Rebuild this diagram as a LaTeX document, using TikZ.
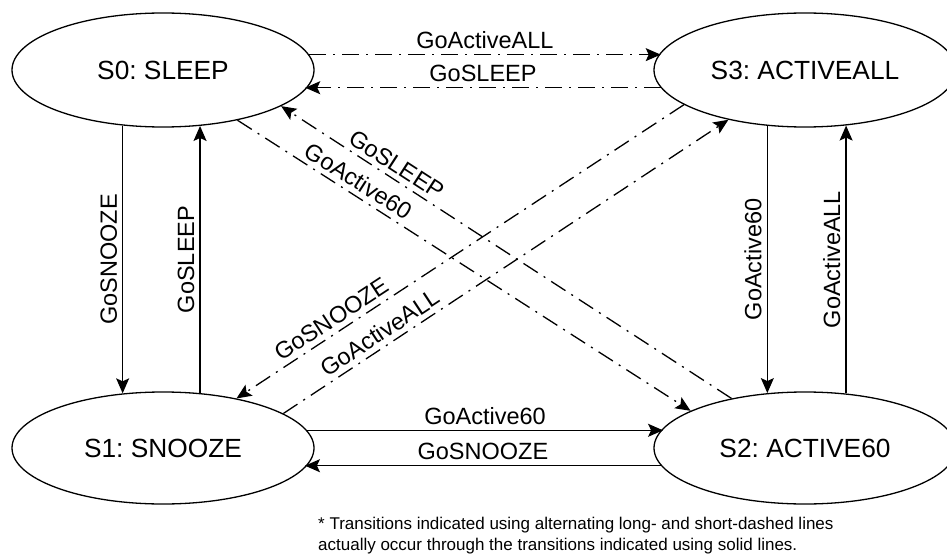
\documentclass[tikz,border=0pt]{standalone}
\usepackage{fontspec}
\setmainfont{Liberation Sans}
\usetikzlibrary{arrows.meta,shapes.geometric,calc}
\begin{document}
\frenchspacing
\begin{tikzpicture}[x=1pt,y=-1pt,
  stnode/.style={draw, ellipse, line width=1.3pt, minimum width=302pt, minimum height=114pt, inner sep=0pt, font=\fontsize{26.3}{30}\selectfont},
  tr/.style={line width=1.3pt, -{Stealth[length=15pt,width=13pt,inset=3pt]}},
  via/.style={tr, dash pattern=on 17pt off 7pt on 2pt off 7pt},
  lbl/.style={font=\fontsize{23.5}{28}\selectfont, inner sep=5pt},
]
\useasboundingbox (0,0) rectangle (947,559);
\clip (0,0) rectangle (947,559);
\node[stnode] (S0) at (163,70) {S0:\ SLEEP};
\node[stnode] (S3) at (805,70) {S3:\ ACTIVEALL};
\node[stnode, minimum height=112pt] (S1) at (163,448) {S1:\ SNOOZE};
\node[stnode, minimum height=112pt] (S2) at (805,448) {S2:\ ACTIVE60};
% vertical solid transitions
\draw[tr] (S0.234) -- (S0.234 |- S1.126) node[lbl, midway, rotate=90, anchor=south] {GoSNOOZE};
\draw[tr] (S1.56.6) -- (S1.56.6 |- S0.303.2) node[lbl, midway, rotate=90, anchor=south] {GoSLEEP};
\draw[tr] (S3.236) -- (S3.236 |- S2.124.4) node[lbl, midway, rotate=90, anchor=south] {GoActive60};
\draw[tr] (S2.53.5) -- (S2.53.5 |- S3.306) node[lbl, midway, rotate=90, anchor=south] {GoActiveALL};
% horizontal transitions
\draw[via] (S0.6.7) -- (S0.6.7 -| S3.173.3) node[lbl, midway, above] {GoActiveALL};
\draw[via] (S3.187.1) -- (S3.187.1 -| S0.352.9) node[lbl, midway, above] {GoSLEEP};
\draw[tr] (S1.7.1) -- (S1.7.1 -| S2.172.9) node[lbl, midway, above] {GoActive60};
\draw[tr] (S2.187.5) -- (S2.187.5 -| S1.352.5) node[lbl, midway, above] {GoSNOOZE};
% diagonal transitions
\draw[via] (S0.326) -- (S2.162.4) node[lbl, pos=0.25, sloped, above] {GoActive60};
\draw[via] (S2.146.5) -- (S0.343.7) node[lbl, pos=0.76, sloped, above] {GoSLEEP};
\draw[via] (S1.16.3) -- (S3.213.7) node[lbl, pos=0.235, sloped, above] {GoActiveALL};
\draw[via] (S3.196.5) -- (S1.34.6) node[lbl, pos=0.77, sloped, above] {GoSNOOZE};
% footnote
\node[font=\fontsize{17}{21}\selectfont, align=left, anchor=north west, inner sep=0pt] (note) at (318,517)
  {* Transitions indicated using alternating long- and short-dashed lines\\actually occur through the transitions indicated using solid lines.};
\end{tikzpicture}
\end{document}
